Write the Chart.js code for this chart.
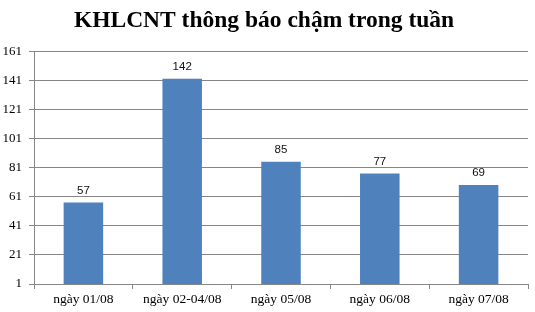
<!DOCTYPE html>
<html>
<head>
<meta charset="utf-8">
<script src="https://cdn.jsdelivr.net/npm/chart.js@4.4.0/dist/chart.umd.min.js"></script>
<style>
  html, body { margin: 0; padding: 0; background: #fff; }
  canvas { display: block; }
</style>
</head>
<body>
<canvas id="reportChart" width="535" height="312"></canvas>
<script>
// values
const dayLabels = ['ngày 01/08', 'ngày 02-04/08', 'ngày 05/08', 'ngày 06/08', 'ngày 07/08'];
const lateCounts = [57, 142, 85, 77, 69];
const yMin = 1;
const yMax = 161;
const yStep = 20;

const barColor = '#4F81BD';
const gridColor = '#868686';
const serif = '"Liberation Serif", "Times New Roman", serif';

// writes the number above each bar
const valueLabels = {
    id: 'valueLabels',
    afterDatasetsDraw(chart) {
        const ctx = chart.ctx;
        const meta = chart.getDatasetMeta(0);
        ctx.save();
        ctx.font = '11.5px "Liberation Sans", Arial, sans-serif';
        ctx.fillStyle = '#111';
        ctx.textAlign = 'center';
        ctx.textBaseline = 'bottom';
        meta.data.forEach(function (bar, i) {
            ctx.fillText(lateCounts[i], bar.x, bar.y - 6);
        });
        ctx.restore();
    }
};

var ctx = document.getElementById('reportChart').getContext('2d');
var myChart = new Chart(ctx, {
    type: 'bar',
    data: {
        labels: dayLabels,
        datasets: [{
            data: lateCounts,
            backgroundColor: barColor,
            borderWidth: 0,
            categoryPercentage: 0.8,
            barPercentage: 0.5
        }]
    },
    options: {
        responsive: false,
        animation: false,
        layout: { padding: { left: 0, right: 7, top: 0, bottom: 0 } },
        plugins: {
            legend: { display: false },
            tooltip: { enabled: false },
            title: {
                display: true,
                text: 'KHLCNT thông báo chậm trong tuần',
                color: '#000',
                font: { family: serif, size: 23.5, weight: 'bold' },
                padding: { top: 7, bottom: 16 }
            }
        },
        scales: {
            x: {
                grid: { display: true, drawOnChartArea: false, tickLength: 5, color: gridColor, offset: true },
                border: { color: gridColor },
                ticks: {
                    color: '#000',
                    padding: 2,
                    maxRotation: 0,
                    font: { family: serif, size: 13.5 }
                },
                afterFit: function (scale) { scale.height = 28; }
            },
            y: {
                min: yMin,
                max: yMax,
                grid: { color: gridColor, tickLength: 5 },
                border: { color: gridColor },
                ticks: {
                    stepSize: yStep,
                    color: '#000',
                    padding: 7,
                    font: { family: serif, size: 13 }
                },
                afterFit: function (scale) { scale.width = 34; }
            }
        }
    },
    plugins: [valueLabels]
});
</script>
</body>
</html>
